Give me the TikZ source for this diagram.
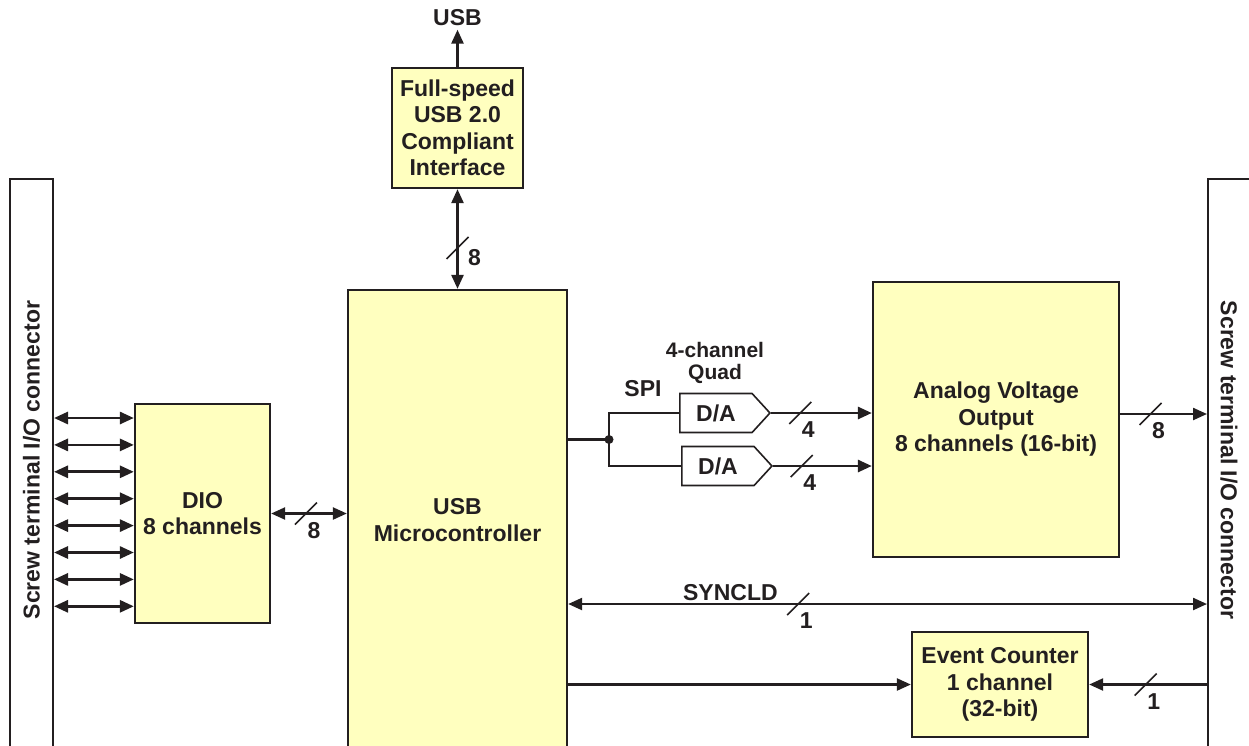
\documentclass[tikz,border=0pt]{standalone}
\usepackage{fontspec}
\setmainfont{Liberation Sans}
\usetikzlibrary{arrows.meta,calc,positioning,shapes.symbols}

\definecolor{boxfill}{HTML}{FFFFBF}
\definecolor{ink}{HTML}{231F20}

\tikzset{
  block/.style={draw=ink, line width=2.3, fill=boxfill, align=center, inner sep=0pt},
  conn/.style={draw=ink, line width=2, inner sep=0pt, minimum height=582},
  dac/.style={shape=signal, signal from=nowhere, signal to=east, signal pointer angle=95,
    draw=ink, line width=1.6, fill=white, minimum width=90, minimum height=39, inner sep=0pt},
  wire/.style={line width=2.3},
  small/.style={align=center, font=\fontsize{21}{22}\selectfont\bfseries},
  pics/hbus/.style={code={
    \draw[-, line width=1.6] (-11,11) -- (11,-11);
    \node at (8,17) {#1};}},
  pics/vbus/.style={code={
    \draw[-, line width=1.6] (-11,11) -- (11,-11);
    \node at (17,10) {#1};}},
}

\begin{document}
\begin{tikzpicture}[x=1pt, y=-1pt, color=ink, line join=miter,
    font=\fontsize{23}{26.5}\selectfont\bfseries,
    >={Triangle[length=14pt,width=12pt]}]

  \useasboundingbox (0,0) rectangle (1249,745);

  % screw terminal connectors
  \node[conn, minimum width=43] (lconn) at (31.5,470) {};
  \node[rotate=90] (ltext) at (31.5,460) {Screw terminal I/O connector};
  \node[conn, minimum width=52] (rconn) at (1234,470) {};
  \node[rotate=-90] (rtext) at (1229,460) {Screw terminal I/O connector};

  % blocks
  \node[block, minimum width=219, minimum height=460] (micro) at (457.5,520) {USB\\Microcontroller};
  \node[block, minimum width=131, minimum height=120] (fsusb) at (457.5,128) {Full-speed\\USB 2.0\\Compliant\\Interface};
  \node (usb) at (457.5,18) {USB};
  \node[block, minimum width=135, minimum height=219] (dio) at (202.5,513.5) {DIO\\8 channels};
  \node[block, minimum width=246, minimum height=275] (ana) at (996,419.5) {Analog Voltage\\Output\\8 channels (16-bit)};
  \node[block, minimum width=176, minimum height=105] (ec) at (1000,684.5) {Event Counter\\1 channel\\(32-bit)};
  \node[dac] (da1) at (716,413) {D/A};
  \node[dac] (da2) at (718,466) {D/A};
  \node[small] (quad) at (715,363) {4-channel\\Quad};
  \node (spi) at (643,389) {SPI};

  % USB side
  \draw[->, line width=2.6] (fsusb.north) -- (usb.south);
  \draw[<->, line width=2.6] (fsusb.south) -- (micro.north) pic[pos=0.59]{vbus=8};

  % digital I/O lines
  \foreach \i in {0,...,7}{
    \path (0,418+26.9*\i) coordinate (dio\i);
    \draw[<->, line width=2.8] (lconn.east |- dio\i) -- (dio.west |- dio\i);
  }
  \draw[<->, wire] (dio.east) -- (dio.east -| micro.west) pic[pos=0.46]{hbus=8};

  % SPI to the D/A converters
  \coordinate (spij) at (609,439.5);
  \draw[wire] (micro.east |- spij) -- (spij);
  \draw[wire] (da1.west) -| (spij) |- (da2.west);
  \fill (spij) circle[radius=4.5pt];
  \draw[->, wire, line width=2.8] (da1.east) -- (da1.east -| ana.west) pic[pos=0.29]{hbus=4};
  \draw[->, wire, line width=2.8] (da2.east) -- (da2.east -| ana.west) pic[pos=0.29]{hbus=4};

  % analog outputs
  \path (0,414) coordinate (aout);
  \draw[->, wire] (ana.east |- aout) -- (rconn.west |- aout) pic[pos=0.35]{hbus=8};

  % sync and counter
  \path (0,604) coordinate (sync);
  \draw[<->, wire] (micro.east |- sync) -- (rconn.west |- sync)
    node[pos=0.254, above, inner sep=2pt] (syncld) {SYNCLD} pic[pos=0.36]{hbus=1};
  \draw[->, wire] (micro.east |- ec.west) -- (ec.west);
  \draw[->, wire] (rconn.west |- ec.east) -- (ec.east) pic[pos=0.52]{hbus=1};

\end{tikzpicture}
\end{document}
